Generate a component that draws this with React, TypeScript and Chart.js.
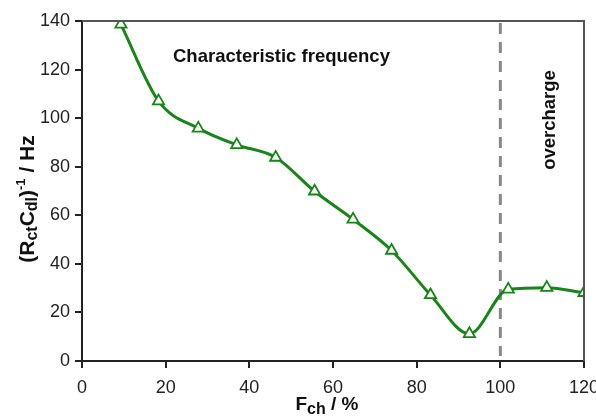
import React, { useEffect, useRef } from "react";
import { Chart, registerables } from "chart.js";

Chart.register(...registerables);

const fch = [9.3, 18.3, 27.8, 37.0, 46.3, 55.6, 64.8, 74.0, 83.3, 92.6, 101.9, 111.1, 120.0];
const freq = [138.6, 107.0, 95.8, 89.0, 83.8, 69.9, 58.3, 45.5, 27.2, 11.2, 29.5, 30.2, 28.1];
const xTicks = [0, 20, 40, 60, 80, 100, 120];
const yTicks = [0, 20, 40, 60, 80, 100, 120, 140];
const boundary = 100;
const GREEN = "#178517";
const FONT = "'Liberation Sans', Arial, sans-serif";

type Piece = { t: string; s: number; dy: number };

function drawPieces(ctx: CanvasRenderingContext2D, pieces: Piece[], cx: number, cy: number, rot: number) {
  ctx.save();
  ctx.translate(cx, cy);
  ctx.rotate(rot);
  let total = 0;
  for (const p of pieces) {
    ctx.font = `bold ${p.s}px ${FONT}`;
    total += ctx.measureText(p.t).width;
  }
  let x = -total / 2;
  ctx.textBaseline = "alphabetic";
  ctx.textAlign = "left";
  ctx.fillStyle = "#111";
  for (const p of pieces) {
    ctx.font = `bold ${p.s}px ${FONT}`;
    ctx.fillText(p.t, x, p.dy);
    x += ctx.measureText(p.t).width;
  }
  ctx.restore();
}

const decor = {
  id: "decor",
  beforeDatasetsDraw(chart: any) {
    const { ctx, chartArea, scales } = chart;
    const xb = scales.x.getPixelForValue(boundary);
    ctx.save();
    ctx.strokeStyle = "#888";
    ctx.lineWidth = 3;
    ctx.setLineDash([11, 8]);
    ctx.beginPath();
    ctx.moveTo(xb, chartArea.top + 2);
    ctx.lineTo(xb, chartArea.bottom - 5);
    ctx.stroke();
    ctx.restore();
  },
  afterDraw(chart: any) {
    const { ctx, chartArea } = chart;
    ctx.save();
    ctx.strokeStyle = "#555";
    ctx.lineWidth = 2;
    ctx.beginPath();
    ctx.moveTo(chartArea.left, chartArea.top);
    ctx.lineTo(chartArea.right, chartArea.top);
    ctx.lineTo(chartArea.right, chartArea.bottom);
    ctx.stroke();
    ctx.restore();

    ctx.save();
    ctx.fillStyle = "#111";
    ctx.font = `bold 18.5px ${FONT}`;
    ctx.textAlign = "left";
    ctx.textBaseline = "alphabetic";
    ctx.fillText("Characteristic frequency", 173, 62);
    ctx.translate(555, 120);
    ctx.rotate(-Math.PI / 2);
    ctx.textAlign = "center";
    ctx.fillText("overcharge", 0, 0);
    ctx.restore();

    drawPieces(
      ctx,
      [
        { t: "(R", s: 21, dy: 0 },
        { t: "ct", s: 16, dy: 3 },
        { t: "C", s: 21, dy: 0 },
        { t: "dl", s: 16, dy: 3 },
        { t: ")", s: 21, dy: 0 },
        { t: "-1", s: 13, dy: -9 },
        { t: " / Hz", s: 21, dy: 0 },
      ],
      33.5,
      199,
      -Math.PI / 2
    );
    drawPieces(
      ctx,
      [
        { t: "F", s: 19, dy: 0 },
        { t: "ch", s: 16, dy: 4 },
        { t: " / %", s: 19, dy: 0 },
      ],
      327,
      410,
      0
    );
  },
};

export default function App() {
  const ref = useRef<HTMLCanvasElement>(null);
  useEffect(() => {
    const chart = new Chart(ref.current!, {
      type: "line",
      data: {
        datasets: [
          {
            data: fch.map((x, i) => ({ x, y: freq[i] })),
            borderColor: GREEN,
            borderWidth: 3,
            cubicInterpolationMode: "monotone",
            pointStyle: "triangle",
            pointRadius: 6.5,
            pointBorderWidth: 1.8,
            pointBorderColor: GREEN,
            pointBackgroundColor: "#fff",
          },
        ],
      },
      options: {
        responsive: false,
        animation: false,
        events: [],
        layout: { padding: { left: 0, top: 21, right: 12, bottom: 0 } },
        plugins: { legend: { display: false }, tooltip: { enabled: false } },
        scales: {
          x: {
            type: "linear",
            min: 0,
            max: 120,
            afterBuildTicks: (s: any) => {
              s.ticks = xTicks.map((v) => ({ value: v }));
            },
            afterFit: (s: any) => {
              s.height = 59;
              s.paddingLeft = 0;
              s.paddingRight = 0;
            },
            ticks: { color: "#222", font: { family: FONT, size: 18 }, padding: 9, maxRotation: 0 },
            grid: { drawOnChartArea: false, drawTicks: true, tickLength: 7, color: "#222", lineWidth: 2 },
            border: { display: true, color: "#222", width: 2 },
          },
          y: {
            type: "linear",
            min: 0,
            max: 140,
            afterBuildTicks: (s: any) => {
              s.ticks = yTicks.map((v) => ({ value: v }));
            },
            afterFit: (s: any) => {
              s.width = 82;
              s.paddingTop = 0;
              s.paddingBottom = 0;
            },
            ticks: { color: "#222", font: { family: FONT, size: 18 }, padding: 5 },
            grid: { drawOnChartArea: false, drawTicks: true, tickLength: 7, color: "#222", lineWidth: 2 },
            border: { display: true, color: "#222", width: 2 },
          },
        },
      },
      plugins: [decor],
    });
    return () => chart.destroy();
  }, []);
  return (
    <canvas
      ref={ref}
      width={596}
      height={420}
      style={{ position: "fixed", left: 0, top: 0, width: 596, height: 420, background: "#fff" }}
    />
  );
}
